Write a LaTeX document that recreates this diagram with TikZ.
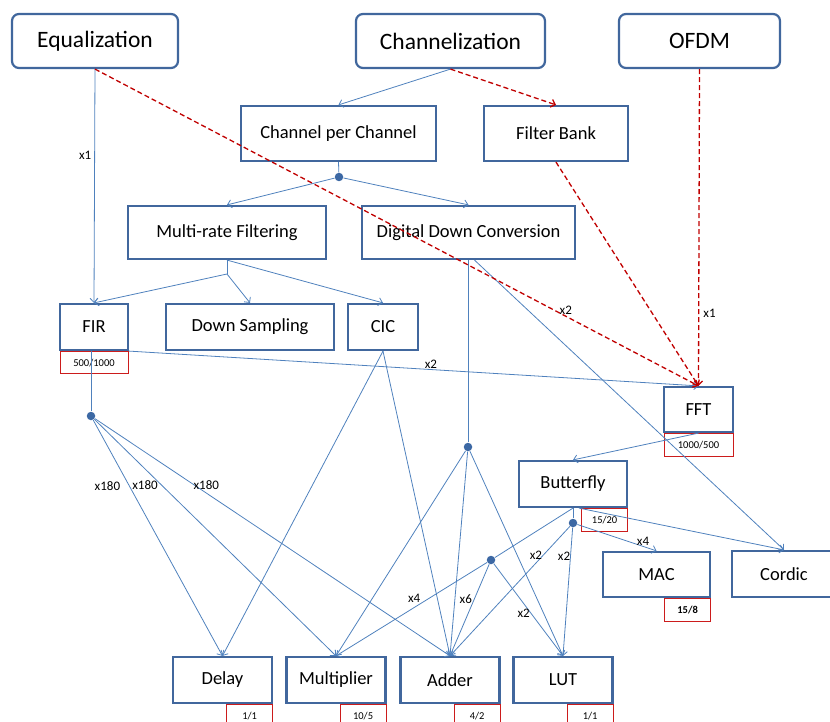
\documentclass[tikz,border=0pt]{standalone}
\usepackage{fontspec}
\setmainfont{Carlito}
\usetikzlibrary{arrows.meta}
\definecolor{boxblue}{HTML}{41679D}
\definecolor{lineblue}{HTML}{4F81BD}
\definecolor{dotblue}{HTML}{3C68A4}
\definecolor{costred}{HTML}{CC1C1C}
\definecolor{dashred}{HTML}{C00000}

\begin{document}
\begin{tikzpicture}[x=1pt,y=-1pt,->,>={Straight Barb[length=4pt,width=8pt]},draw=lineblue,line width=0.8pt]
    \tikzstyle{topbox}=[draw=boxblue,line width=2.2pt,rounded corners=7pt,fill=white,minimum height=54pt,inner sep=0pt,font=\fontsize{23.5}{26}\selectfont]
    \tikzstyle{block}=[draw=boxblue,line width=2.2pt,fill=white,minimum height=46pt,inner sep=0pt,font=\fontsize{18.5}{22}\selectfont]
    \tikzstyle{cost}=[draw=costred,line width=1pt,fill=white,minimum width=46pt,minimum height=23pt,inner sep=0pt,font=\fontsize{10.5}{12}\selectfont]
    \tikzstyle{junction}=[circle,fill=dotblue,minimum size=8.5pt,inner sep=0pt]
    \tikzstyle{mult}=[inner sep=1pt,font=\fontsize{13}{15}\selectfont]
    \tikzstyle{demand}=[draw=dashred,dash pattern=on 5pt off 3pt,line width=1.3pt]
    \useasboundingbox (0,0) rectangle (830,722);
    % Draw the application boxes
    \node[topbox,minimum width=166pt] (Equalization) at (95,41) {Equalization};
    \node[topbox,minimum width=189pt] (Channelization) at (450.5,41) {Channelization};
    \node[topbox,minimum width=161pt] (OFDM) at (699.5,41) {OFDM};
    % Draw the architecture boxes
    \node[block,minimum width=195pt,minimum height=55pt] (CpC) at (338.5,133.5) {Channel per Channel};
    \node[block,minimum width=144pt,minimum height=55pt] (FilterBank) at (556,133.5) {Filter Bank};
    \node[block,minimum width=198pt,minimum height=53pt] (MRF) at (227,232.5) {Multi-rate Filtering};
    \node[block,minimum width=213pt,minimum height=53pt] (DDC) at (468.5,232.5) {Digital Down Conversion};
    % Draw the function boxes
    \node[block,minimum width=68pt] (FIR) at (94,327) {FIR};
    \node[block,minimum width=168pt] (DownSampling) at (250,327) {Down Sampling};
    \node[block,minimum width=70pt] (CIC) at (383,327) {CIC};
    \node[block,minimum width=69pt,minimum height=45pt] (FFT) at (698.5,409.5) {FFT};
    \node[block,minimum width=108pt] (Butterfly) at (573,484) {Butterfly};
    \node[block,minimum width=107pt,minimum height=45pt] (MAC) at (656.5,574.5) {MAC};
    \node[block,minimum width=104pt] (Cordic) at (784,574) {Cordic};
    \node[cost,minimum width=68pt,minimum height=22pt,anchor=north] (FIR-cost) at (FIR.south) {500/1000};
    \node[cost,minimum width=69pt,anchor=north] (FFT-cost) at (FFT.south) {1000/500};
    \node[cost,anchor=north east] (Butterfly-cost) at (Butterfly.south east) {15/20};
    \node[cost,anchor=north east,font=\fontsize{10.5}{12}\selectfont\bfseries] (MAC-cost) at (MAC.south east) {15/8};
    % Draw the primitive boxes
    \foreach \name/\x/\a/\b in {Delay/222.5/1/1, Multiplier/336/10/5, Adder/450/4/2, LUT/563/1/1}{
        \node[block,minimum width=99pt] (\name) at (\x,680) {\name};
        \node[cost,anchor=north east] (\name-cost) at (\name.south east) {\a/\b};
    }
    % Draw the junctions
    \node[junction] (cpc-dot) at (339,177) {};
    \node[junction] (fir-dot) at (91,416) {};
    \node[junction] (ddc-dot) at (468,447) {};
    \node[junction] (bfly-dot) at (573,523) {};
    \node[junction] (mix-dot) at (491,560) {};
    \coordinate (mrf-split) at (227,274);
    % Draw the connections
    \path (Channelization.south) edge (CpC.north);
    \draw[-] (CpC.south) -- (cpc-dot);
    \path (cpc-dot) edge (MRF.north) edge (DDC.north);
    \path (Equalization.south) edge node[mult,pos=0.37,left=2pt] {x1} (FIR.north);
    \draw[-] (MRF.south) -- (mrf-split);
    \path (mrf-split) edge (FIR.north) edge (DownSampling.north);
    \path (MRF.south) edge (CIC.north);
    \path (FIR.south east) edge node[mult,pos=0.53,above] {x2} (FFT.north);
    \draw[-] (FIR.south -| fir-dot) -- (fir-dot);
    \foreach \target/\shift in {Delay/-22, Multiplier/-17, Adder/12}
        \path (fir-dot) edge node[mult,pos=0.28,xshift=\shift pt] {x180} (\target.north);
    \path (CIC.south) edge (Delay.north) edge (Adder.north);
    \draw[-] (DDC.south -| ddc-dot) -- (ddc-dot);
    \path ([xshift=6pt]DDC.south) edge (Cordic.north);
    \foreach \target in {Multiplier, Adder, LUT}
        \path (ddc-dot) edge (\target.north);
    \path (FFT.south) edge (Butterfly.north);
    \draw[-] (Butterfly.south) -- (bfly-dot);
    \draw[-] (Butterfly.south) -- (mix-dot);
    \path ([xshift=6pt]Butterfly.south) edge (Cordic.north);
    \path (bfly-dot) edge node[mult,pos=0.83,above] {x4} (MAC.north)
                     edge node[mult,pos=0.22,left=0pt] {x2} (Adder.north)
                     edge node[mult,pos=0.22,left=-1pt] {x2} (LUT.north);
    \path (mix-dot) edge node[mult,pos=0.38,left=8pt] {x4} (Multiplier.north)
                    edge node[mult,pos=0.38,left=1pt] {x6} (Adder.north)
                    edge node[mult,pos=0.54,left=0pt] {x2} (LUT.north);
    % Draw the dashed demands
    \path (Equalization.south) edge[demand] node[mult,pos=0.78,above] {x2} (FFT.north);
    \path (Channelization.south) edge[demand] (FilterBank.north);
    \path (FilterBank.south) edge[demand] (FFT.north);
    \path (OFDM.south) edge[demand] node[mult,pos=0.77,right=3pt] {x1} (FFT.north);
\end{tikzpicture}
\end{document}
